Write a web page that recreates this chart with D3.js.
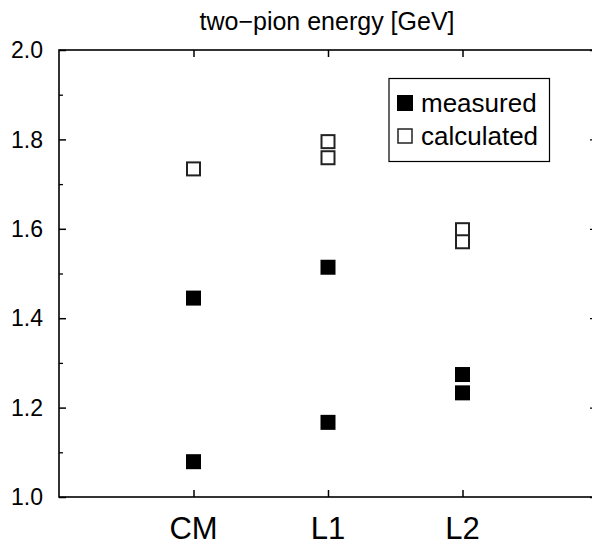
<!DOCTYPE html>
<html>
<head>
<meta charset="utf-8">
<script src="https://cdn.jsdelivr.net/npm/d3@7"></script>
<style>
  html, body { margin: 0; padding: 0; background: #fff; }
  svg { display: block; font-family: "Liberation Sans", Arial, sans-serif; }
</style>
</head>
<body>
<svg id="chart" width="592" height="546"></svg>
<script>
const categories = ["CM", "L1", "L2"];
const categoryIndex = [1, 2, 3];
const measuredCat = ["CM", "CM", "L1", "L1", "L2", "L2"];
const measuredVal = [1.079, 1.445, 1.514, 1.167, 1.274, 1.233];
const calculatedCat = ["CM", "L1", "L1", "L2", "L2"];
const calculatedVal = [1.734, 1.795, 1.759, 1.598, 1.571];
const yMajorTicks = [1.0, 1.2, 1.4, 1.6, 1.8, 2.0];
const yMinorTicks = [1.1, 1.3, 1.5, 1.7, 1.9];
const titleText = "two\u2212pion energy [GeV]";
const legendLabels = ["measured", "calculated"];

const svg = d3.select("#chart");
const pL = 59, pR = 597, pT = 50, pB = 497;

const x = d3.scaleLinear().domain([0, 4]).range([pL, pR]);
const y = d3.scaleLinear().domain([1.0, 2.0]).range([pB, pT]);
const catX = c => x(categoryIndex[categories.indexOf(c)]);

// frame
svg.append("rect")
  .attr("x", pL).attr("y", pT)
  .attr("width", pR - pL).attr("height", pB - pT)
  .attr("fill", "none").attr("stroke", "#000").attr("stroke-width", 1.6);

const fmt = d3.format(".1f");

// left axis (ticks inward)
svg.append("g").attr("transform", `translate(${pL},0)`)
  .call(d3.axisRight(y).tickValues(yMajorTicks).tickSize(7).tickFormat(""))
  .call(g => g.select(".domain").remove())
  .call(g => g.selectAll("line").attr("stroke-width", 1.5));
svg.append("g").attr("transform", `translate(${pL},0)`)
  .call(d3.axisRight(y).tickValues(yMinorTicks).tickSize(4).tickFormat(""))
  .call(g => g.select(".domain").remove())
  .call(g => g.selectAll("line").attr("stroke-width", 1.3));

// left tick labels
svg.append("g").selectAll("text").data(yMajorTicks).join("text")
  .attr("x", 43).attr("y", d => y(d)).attr("dy", "0.36em")
  .attr("text-anchor", "end").attr("font-size", 23).attr("fill", "#000")
  .text(d => fmt(d));

// right axis (ticks inward)
svg.append("g").attr("transform", `translate(${pR},0)`)
  .call(d3.axisLeft(y).tickValues(yMajorTicks).tickSize(7).tickFormat(""))
  .call(g => g.select(".domain").remove())
  .call(g => g.selectAll("line").attr("stroke-width", 1.3));
svg.append("g").attr("transform", `translate(${pR},0)`)
  .call(d3.axisLeft(y).tickValues(yMinorTicks).tickSize(4).tickFormat(""))
  .call(g => g.select(".domain").remove());

// bottom axis (ticks inward)
svg.append("g").attr("transform", `translate(0,${pB})`)
  .call(d3.axisTop(x).tickValues(categoryIndex).tickSize(7).tickFormat(""))
  .call(g => g.select(".domain").remove())
  .call(g => g.selectAll("line").attr("stroke-width", 1.5));
// top axis (ticks inward)
svg.append("g").attr("transform", `translate(0,${pT})`)
  .call(d3.axisBottom(x).tickValues(categoryIndex).tickSize(7).tickFormat(""))
  .call(g => g.select(".domain").remove())
  .call(g => g.selectAll("line").attr("stroke-width", 1.5));

// category labels
svg.append("g").selectAll("text").data(categories).join("text")
  .attr("x", d => catX(d)).attr("y", 539)
  .attr("text-anchor", "middle").attr("font-size", 31).attr("fill", "#000")
  .text(d => d);

// title
svg.append("text").attr("x", 327).attr("y", 30)
  .attr("text-anchor", "middle").attr("font-size", 25).attr("fill", "#000")
  .text(titleText);

const S = 15;
// measured: filled squares
svg.append("g").selectAll("rect")
  .data(measuredVal.map((v, i) => ({c: measuredCat[i], v})))
  .join("rect")
  .attr("x", d => catX(d.c) - S / 2).attr("y", d => y(d.v) - S / 2)
  .attr("width", S).attr("height", S).attr("fill", "#000");

// calculated: open squares
svg.append("g").selectAll("rect")
  .data(calculatedVal.map((v, i) => ({c: calculatedCat[i], v})))
  .join("rect")
  .attr("x", d => catX(d.c) - (S - 2) / 2).attr("y", d => y(d.v) - (S - 2) / 2)
  .attr("width", S - 2).attr("height", S - 2)
  .attr("fill", "#fff").attr("stroke", "#222").attr("stroke-width", 2);

// legend
const lg = svg.append("g");
lg.append("rect").attr("x", 389).attr("y", 78.5).attr("width", 160.5).attr("height", 83)
  .attr("fill", "#fff").attr("stroke", "#000").attr("stroke-width", 1.2);
lg.append("rect").attr("x", 397).attr("y", 95).attr("width", 16).attr("height", 16).attr("fill", "#000");
lg.append("rect").attr("x", 398).attr("y", 129).attr("width", 14).attr("height", 14)
  .attr("fill", "#fff").attr("stroke", "#222").attr("stroke-width", 1.5);
lg.selectAll("text.lab").data(legendLabels).join("text").attr("class", "lab")
  .attr("x", 421).attr("y", (d, i) => 111.5 + i * 33)
  .attr("font-size", 26).attr("fill", "#000")
  .text(d => d);
</script>
</body>
</html>
